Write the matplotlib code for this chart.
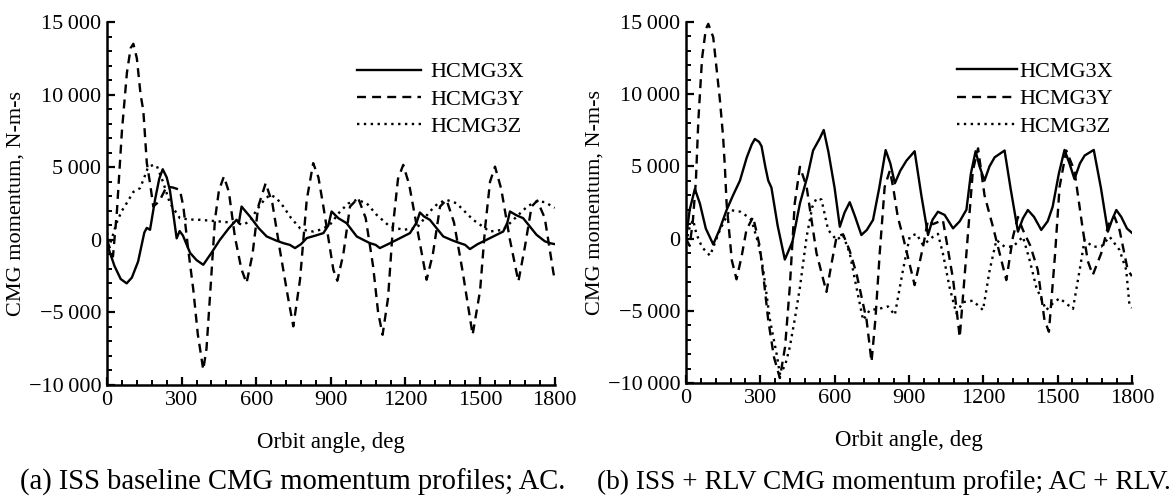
import matplotlib
matplotlib.use("Agg")
import matplotlib.pyplot as plt
from matplotlib.ticker import FixedLocator, MultipleLocator, FuncFormatter

plt.rcParams["font.family"] = ["Liberation Serif", "DejaVu Serif"]
plt.rcParams["mathtext.fontset"] = "stix"

FS = 16

series_labels = ["HCMG3X", "HCMG3Y", "HCMG3Z"]
captions = [
    "(a) ISS baseline CMG momentum profiles; AC.",
    "(b) ISS + RLV CMG momentum profile; AC + RLV.",
]

# ---- (a) ISS baseline ----
a_x_deg = [0, 10, 30, 55, 79, 100, 125, 150, 160, 173, 193, 210, 224, 240, 253, 268, 280,
           292, 305, 334, 360, 387, 420, 454, 490, 521, 530, 541, 560, 575, 610, 642, 680,
           709, 735, 756, 780, 803, 840, 870, 890, 903, 930, 963, 1004, 1030, 1057, 1080,
           1097, 1130, 1165, 1218, 1245, 1258, 1275, 1298, 1352, 1390, 1419, 1440, 1459,
           1490, 1526, 1593, 1610, 1620, 1645, 1673, 1727, 1760, 1781, 1800]
a_x_val = [-200, -800, -1800, -2700, -3000, -2600, -1500, 500, 820, 690, 2750, 4200, 4860,
           4300, 3400, 1600, 100, 600, 300, -900, -1400, -1720, -900, 0, 800, 1376, 1150,
           2290, 1900, 1600, 800, 230, -50, -230, -350, -570, -300, 117, 300, 460, 1000,
           1950, 1490, 1150, 230, 0, -230, -350, -570, -300, 0, 460, 1200, 1880, 1600,
           1376, 230, -50, -230, -350, -640, -300, 0, 570, 1200, 1950, 1700, 1490, 344,
           -100, -230, -300]

a_y_deg = [0, 12, 24, 40, 60, 80, 95, 106, 120, 135, 146, 160, 173, 186, 200, 213, 240,
           265, 293, 307, 325, 347, 365, 387, 400, 414, 434, 450, 470, 490, 514, 540, 561,
           585, 608, 638, 665, 695, 727, 749, 776, 803, 829, 850, 870, 910, 926, 950, 977,
           1010, 1040, 1070, 1090, 1108, 1130, 1150, 1170, 1191, 1215, 1250, 1285, 1310,
           1339, 1365, 1395, 1430, 1470, 1500, 1520, 1540, 1560, 1585, 1620, 1654, 1680,
           1707, 1730, 1760, 1795, 1800]
a_y_val = [0, -600, -1150, 2000, 7500, 11500, 13200, 13500, 12500, 10000, 8900, 5300,
           3900, 2300, 2500, 2750, 3670, 3600, 3440, 2290, -460, -3440, -6500, -8950,
           -7500, -3900, 1376, 3400, 4360, 3300, 230, -2000, -2980, -1000, 2290, 3900,
           2500, -690, -3900, -5960, -2750, 2750, 5280, 4300, 2290, -2060, -2820, -1000,
           2290, 2870, 1500, -1840, -5000, -6540, -4000, 1000, 4200, 5160, 3800, 500,
           -2750, -1000, 2290, 2750, 1200, -2200, -6540, -3500, 800, 4000, 5040, 3500, 0,
           -2870, -500, 2290, 2700, 1500, -2290, -2700]

a_z_deg = [0, 12, 25, 39, 60, 79, 106, 133, 150, 165, 185, 200, 225, 253, 293, 330, 374,
           454, 521, 548, 575, 602, 630, 655, 680, 709, 740, 776, 800, 829, 860, 896, 937,
           970, 1004, 1044, 1084, 1137, 1191, 1245, 1298, 1330, 1365, 1405, 1472, 1539,
           1593, 1647, 1690, 1727, 1760, 1800]
a_z_val = [500, -300, 400, 1200, 2000, 2520, 3300, 3560, 4300, 5000, 5150, 5100, 4000,
           2520, 1490, 1400, 1376, 1260, 1150, 1030, 1300, 2060, 2700, 3100, 2900, 2290,
           1500, 800, 650, 570, 700, 1030, 1950, 2500, 2750, 2520, 1720, 915, 690, 800,
           1950, 2500, 2750, 2520, 1376, 570, 690, 1600, 2300, 2640, 2600, 2200]

# ---- (b) ISS + RLV ----
b_x_deg = [0, 15, 36, 56, 80, 110, 135, 164, 190, 218, 245, 265, 278, 295, 305, 320, 332,
           345, 370, 399, 430, 460, 490, 513, 540, 556, 575, 600, 621, 640, 661, 681, 708,
           730, 755, 780, 806, 825, 843, 865, 890, 923, 950, 977, 995, 1017, 1044, 1078,
           1105, 1132, 1150, 1169, 1185, 1205, 1225, 1246, 1286, 1310, 1340, 1360, 1380,
           1405, 1434, 1460, 1480, 1505, 1528, 1548, 1568, 1590, 1609, 1646, 1675, 1703,
           1720, 1737, 1757, 1780, 1800]
b_x_val = [0, 2000, 3440, 2440, 700, -400, 600, 1980, 3000, 4020, 5600, 6500, 6900, 6700,
           6400, 5000, 4020, 3530, 900, -1450, -200, 2440, 4300, 6100, 6940, 7520, 6000,
           3500, 820, 1800, 2520, 1600, 250, 600, 1290, 3500, 6130, 5200, 3830, 4700, 5400,
           6050, 3000, 250, 1300, 1860, 1640, 710, 1200, 2000, 4500, 6050, 5000, 4020, 5000,
           5630, 6100, 3500, 480, 1400, 1980, 1500, 600, 1200, 2200, 4500, 6140, 5200, 4130,
           5200, 5750, 6140, 3500, 480, 1300, 1980, 1500, 700, 400]

b_y_deg = [0, 15, 28, 40, 50, 65, 80, 90, 110, 137, 150, 157, 164, 185, 204, 225, 244,
           271, 298, 315, 332, 355, 379, 400, 419, 439, 460, 487, 505, 527, 567, 590, 608,
           634, 660, 688, 729, 749, 765, 782, 802, 823, 836, 855, 876, 923, 957, 977, 997,
           1037, 1078, 1105, 1132, 1158, 1179, 1205, 1239, 1266, 1293, 1320, 1340, 1360,
           1390, 1420, 1447, 1465, 1490, 1508, 1535, 1568, 1602, 1622, 1642, 1676, 1710,
           1730, 1750, 1783, 1800]
b_y_val = [0, -500, 1250, 4000, 8200, 12500, 14500, 14870, 13950, 9600, 7030, 4970, 2440,
           -1500, -2820, -1200, 600, 1500, -560, -3000, -5640, -8200, -9660, -7500, -3370,
           2440, 4970, 3580, 1500, -1020, -3690, -1500, 130, 300, -800, -2400, -5640, -8530,
           -5500, -1020, 3580, 4710, 3580, 1500, 130, -3220, -560, 1290, 1000, 1290, -2800,
           -6830, -1020, 4710, 6250, 3000, 820, -1020, -2870, 130, 1500, 600, -500, -2170,
           -5640, -6450, -1020, 3580, 6100, 4710, 600, -1560, -2520, -1020, 1290, 1500, 600,
           -2170, -2600]

b_z_deg = [0, 15, 29, 42, 65, 97, 137, 177, 218, 251, 264, 292, 312, 339, 366, 379, 400,
           419, 440, 460, 487, 510, 527, 547, 574, 608, 634, 661, 688, 715, 742, 782, 815,
           843, 876, 903, 930, 957, 997, 1017, 1037, 1064, 1091, 1118, 1158, 1199, 1226,
           1253, 1286, 1320, 1360, 1387, 1414, 1454, 1480, 1508, 1562, 1589, 1609, 1642,
           1676, 1710, 1750, 1777, 1790, 1800]
b_z_val = [-300, 800, 1290, 330, -600, -1180, 600, 1980, 1870, 1500, 1300, -330, -2170,
           -5640, -8000, -9370, -8800, -7520, -5500, -3370, 130, 2200, 2790, 2700, 600,
           -100, 250, -1020, -3370, -5640, -4950, -4850, -4700, -5290, -2170, 130, 330,
           -450, 130, 330, -1020, -3370, -5170, -4400, -4300, -4950, -2170, -100, -560,
           -560, 130, -1480, -3370, -4950, -4500, -4130, -4870, -2170, -100, -560, -560,
           130, -790, -2170, -4600, -4800]

x_ticks = [0, 300, 600, 900, 1200, 1500, 1800]
y_ticks = [-10000, -5000, 0, 5000, 10000, 15000]

line_styles = [
    dict(linestyle="-", linewidth=1.7),
    dict(linestyle=(0, (3.8, 2.6)), linewidth=1.7),
    dict(linestyle=(0, (1.0, 1.9)), linewidth=1.7),
]


def fmt_y(v, pos):
    v = int(round(v))
    s = f"{abs(v):,}".replace(",", "\u2009")
    return ("\u2212" if v < 0 else "") + s


def style_axis(ax):
    for side in ["top", "right"]:
        ax.spines[side].set_visible(False)
    for side in ["left", "bottom"]:
        ax.spines[side].set_linewidth(1.8)
    ax.set_xlim(0, 1800)
    ax.set_ylim(-10000, 15000)
    ax.xaxis.set_major_locator(FixedLocator(x_ticks))
    ax.xaxis.set_minor_locator(MultipleLocator(60))
    ax.yaxis.set_major_locator(FixedLocator(y_ticks))
    ax.yaxis.set_minor_locator(MultipleLocator(1000))
    ax.yaxis.set_major_formatter(FuncFormatter(fmt_y))
    ax.tick_params(which="major", direction="in", length=6, width=1.6,
                   labelsize=FS, pad=4)
    ax.tick_params(which="minor", direction="in", length=3.5, width=1.4)
    ax.set_xlabel("Orbit angle, deg", fontsize=16.5, labelpad=16)
    ax.set_ylabel("CMG momentum, N-m-s", fontsize=FS, labelpad=2)


fig = plt.figure(figsize=(11.72, 5.0), dpi=100)
ax_a = fig.add_axes([0.0913, 0.230, 0.382, 0.726])
ax_b = fig.add_axes([0.5853, 0.234, 0.3805, 0.722])

panels = [
    (ax_a, [(a_x_deg, a_x_val), (a_y_deg, a_y_val), (a_z_deg, a_z_val)], 0.558, 2.9, 0.4),
    (ax_b, [(b_x_deg, b_x_val), (b_y_deg, b_y_val), (b_z_deg, b_z_val)], 0.607, 2.7, 0.1),
]

for ax, series, leg_x, hlen, hpad in panels:
    for (xs, ys), label, ls in zip(series, series_labels, line_styles):
        ax.plot(xs, ys, color="black", label=label, **ls)
    style_axis(ax)
    ax.legend(loc="upper left", bbox_to_anchor=(leg_x, 0.89), frameon=False,
              fontsize=FS, handlelength=hlen, handletextpad=hpad,
              labelspacing=0.30, borderpad=0, borderaxespad=0)

fig.text(0.250, 0.035, captions[0], ha="center", va="center", fontsize=20.6)
fig.text(0.754, 0.035, captions[1], ha="center", va="center", fontsize=19.6)

fig.savefig("out.png", dpi=100)
